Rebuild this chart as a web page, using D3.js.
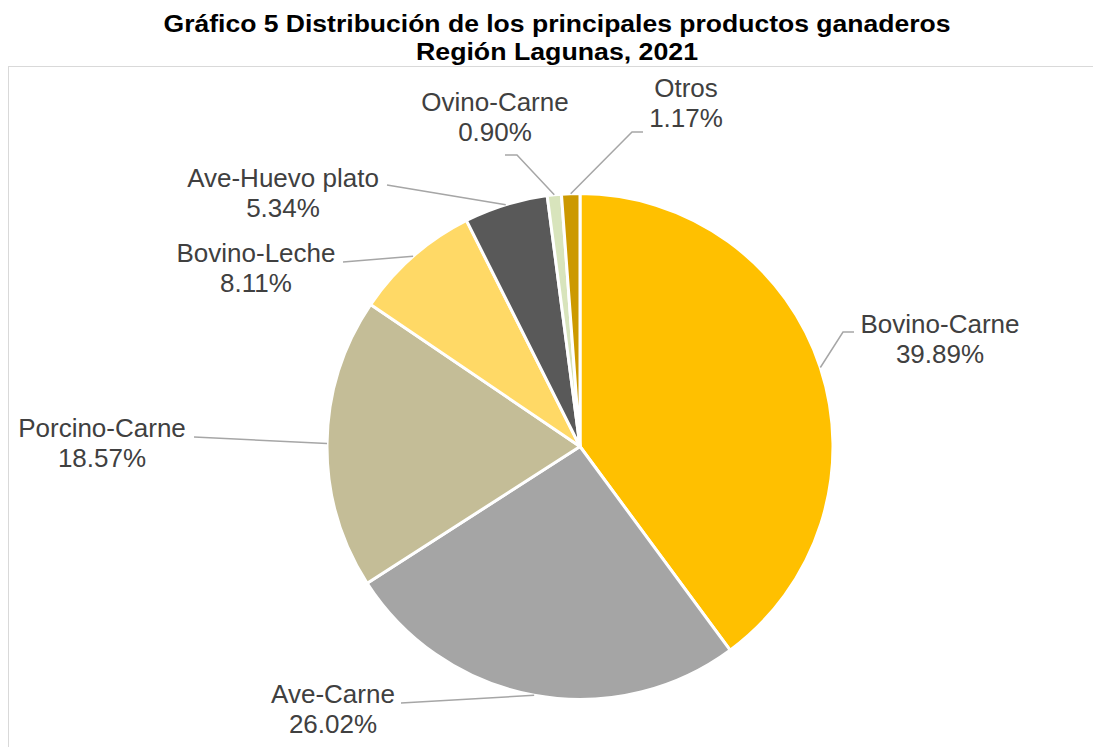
<!DOCTYPE html>
<html>
<head>
    <meta charset="utf-8">
    <script src="https://d3js.org/d3.v7.min.js"></script>
    <style>
        body { margin: 0; background: #fff; }
        text { font-family: "Liberation Sans", Arial, sans-serif; }
    </style>
</head>
<body>
    <div id="chart"></div>
    <script>
        // data (percent of total, clockwise from 12 o'clock)
        var categories = ["Bovino-Carne", "Ave-Carne", "Porcino-Carne", "Bovino-Leche",
            "Ave-Huevo plato", "Ovino-Carne", "Otros"];
        var values = [39.89, 26.02, 18.57, 8.11, 5.34, 0.90, 1.17];
        var valueLabels = ["39.89%", "26.02%", "18.57%", "8.11%", "5.34%", "0.90%", "1.17%"];
        var colors = ["#FFC000", "#A5A5A5", "#C4BD97", "#FFD966", "#595959", "#D8E4BC", "#CC9900"];
        var titleLines = ["Gráfico 5 Distribución de los principales productos ganaderos",
            "Región Lagunas, 2021"];

        // label layout: text centre / first baseline, leader end near the text, optional elbow
        var labelLayout = [
            { tx: 940, ty: 333, lx: 854, ly: 332, ex: 843 },
            { tx: 333, ty: 703, lx: 401, ly: 703 },
            { tx: 102, ty: 437, lx: 194, ly: 437 },
            { tx: 256, ty: 262, lx: 343, ly: 262 },
            { tx: 283, ty: 187, lx: 387, ly: 185 },
            { tx: 495, ty: 111, lx: 505, ly: 155, ex: 517 },
            { tx: 686, ty: 97, lx: 643, ly: 132, ex: 632 }
        ];

        var width = 1093, height = 747;
        var cx = 580, cy = 446.5, radius = 253;

        var svg = d3.select("#chart")
            .append("svg")
            .attr("width", width)
            .attr("height", height);

        // chart area border (runs off the right and bottom of the picture)
        svg.append("rect")
            .attr("x", 8.5)
            .attr("y", 66.5)
            .attr("width", 1200)
            .attr("height", 800)
            .attr("fill", "none")
            .attr("stroke", "#D9D9D9")
            .attr("stroke-width", 1);

        // title
        var titleLengths = [787, 282];
        svg.append("g")
            .selectAll("text")
            .data(titleLines)
            .join("text")
            .attr("x", 557)
            .attr("y", function (d, i) { return 32 + i * 28; })
            .attr("text-anchor", "middle")
            .attr("font-size", "23.5px")
            .attr("font-weight", "bold")
            .attr("fill", "#000")
            .attr("textLength", function (d, i) { return titleLengths[i]; })
            .attr("lengthAdjust", "spacingAndGlyphs")
            .text(function (d) { return d; });

        var pie = d3.pie().sort(null).value(function (d) { return d; });
        var arcs = pie(values);

        var arc = d3.arc().innerRadius(0).outerRadius(radius);

        var g = svg.append("g").attr("transform", "translate(" + cx + "," + cy + ")");

        g.selectAll("path")
            .data(arcs)
            .join("path")
            .attr("d", arc)
            .attr("fill", function (d, i) { return colors[i]; })
            .attr("stroke", "#fff")
            .attr("stroke-width", 3)
            .attr("stroke-linejoin", "round");

        // leader lines
        var line = d3.line();
        svg.append("g")
            .selectAll("path")
            .data(arcs)
            .join("path")
            .attr("d", function (d, i) {
                var a = (d.startAngle + d.endAngle) / 2;
                var p0 = [cx + Math.sin(a) * radius, cy - Math.cos(a) * radius];
                var L = labelLayout[i];
                var pts = [p0];
                if (L.ex !== undefined) pts.push([L.ex, L.ly]);
                pts.push([L.lx, L.ly]);
                return line(pts);
            })
            .attr("fill", "none")
            .attr("stroke", "#A6A6A6")
            .attr("stroke-width", 1.5);

        // data labels
        var labels = svg.append("g")
            .selectAll("text")
            .data(categories)
            .join("text")
            .attr("text-anchor", "middle")
            .attr("font-size", "26px")
            .attr("fill", "#404040");

        labels.append("tspan")
            .attr("x", function (d, i) { return labelLayout[i].tx; })
            .attr("y", function (d, i) { return labelLayout[i].ty; })
            .text(function (d) { return d; });

        labels.append("tspan")
            .attr("x", function (d, i) { return labelLayout[i].tx; })
            .attr("y", function (d, i) { return labelLayout[i].ty + 30; })
            .text(function (d, i) { return valueLabels[i]; });
    </script>
</body>
</html>
